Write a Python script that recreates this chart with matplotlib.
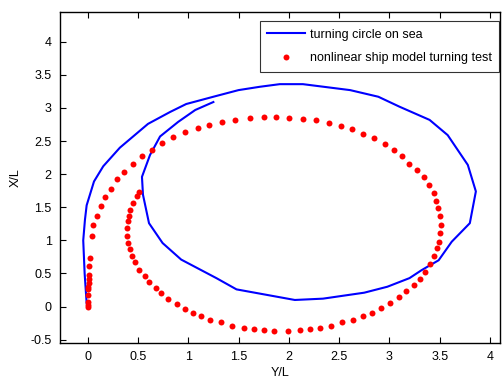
import matplotlib
matplotlib.use('Agg')
import matplotlib.pyplot as plt

plt.rcParams['font.family'] = ['Liberation Sans', 'DejaVu Sans']

# turning circle on sea (blue line), Y/L and X/L
sea_y = [-0.01, -0.03, -0.044, -0.027, -0.01, 0.063, 0.155, 0.32, 0.60, 0.82, 0.98,
         1.25, 1.50, 1.71, 1.91, 2.14, 2.61, 2.89, 3.10, 3.40, 3.58, 3.78, 3.86,
         3.80, 3.62, 3.49, 3.32, 3.20, 2.98, 2.75, 2.34, 2.06, 1.48, 1.28, 0.93,
         0.745, 0.61, 0.55, 0.54, 0.62, 0.72, 0.90, 1.07, 1.25]
sea_x = [0.05, 0.5, 1.0, 1.31, 1.53, 1.89, 2.12, 2.40, 2.76, 2.94, 3.06,
         3.17, 3.27, 3.32, 3.36, 3.36, 3.27, 3.17, 3.02, 2.82, 2.59, 2.14, 1.74,
         1.26, 0.98, 0.70, 0.55, 0.43, 0.30, 0.21, 0.12, 0.10, 0.26, 0.43, 0.71,
         0.96, 1.26, 1.69, 1.96, 2.29, 2.57, 2.79, 2.97, 3.09]

# nonlinear ship model turning test (red dots)
model_y = [0.0, 0.0, 0.0, 0.0, 0.005, 0.005, 0.01, 0.01, 0.01, 0.01, 0.02,
           0.04, 0.056, 0.095, 0.135, 0.175, 0.23, 0.29, 0.36, 0.45, 0.54, 0.64,
           0.735, 0.845, 0.97, 1.10, 1.21, 1.34, 1.47, 1.61, 1.75, 1.87, 2.00,
           2.14, 2.27, 2.40, 2.52, 2.63, 2.74, 2.85, 2.96, 3.05, 3.13, 3.20,
           3.27, 3.34, 3.39, 3.44, 3.46, 3.48, 3.50, 3.51, 3.50, 3.49, 3.47,
           3.44, 3.40, 3.35, 3.30, 3.24, 3.17, 3.10, 3.01, 2.92, 2.83, 2.74,
           2.64, 2.53, 2.42, 2.31, 2.21, 2.11, 1.99, 1.85, 1.75, 1.65, 1.55,
           1.44, 1.33, 1.22, 1.13, 1.05, 0.97, 0.885, 0.80, 0.725, 0.675, 0.61,
           0.57, 0.51, 0.47, 0.44, 0.42, 0.40, 0.39, 0.39, 0.40, 0.41, 0.42,
           0.45, 0.49, 0.51]
model_x = [0.0, 0.03, 0.066, 0.17, 0.27, 0.30, 0.35, 0.41, 0.48, 0.61, 0.74,
           1.07, 1.23, 1.37, 1.52, 1.66, 1.78, 1.92, 2.04, 2.16, 2.27, 2.37,
           2.47, 2.56, 2.63, 2.70, 2.75, 2.79, 2.82, 2.85, 2.87, 2.87, 2.85,
           2.83, 2.82, 2.77, 2.73, 2.68, 2.61, 2.54, 2.45, 2.36, 2.27, 2.16,
           2.07, 1.95, 1.83, 1.71, 1.60, 1.49, 1.37, 1.23, 1.11, 0.98, 0.88,
           0.77, 0.65, 0.52, 0.42, 0.33, 0.24, 0.15, 0.06, -0.015, -0.09, -0.14,
           -0.20, -0.24, -0.30, -0.32, -0.34, -0.35, -0.37, -0.37, -0.35, -0.34, -0.32,
           -0.30, -0.24, -0.20, -0.14, -0.09, -0.04, 0.036, 0.12, 0.21, 0.28, 0.37,
           0.46, 0.56, 0.67, 0.77, 0.87, 0.96, 1.07, 1.18, 1.29, 1.37, 1.46,
           1.57, 1.67, 1.73]

xticks = [0, 0.5, 1, 1.5, 2, 2.5, 3, 3.5, 4]
yticks = [-0.5, 0, 0.5, 1, 1.5, 2, 2.5, 3, 3.5, 4]

fig = plt.figure(figsize=(5.03, 3.82), dpi=100)
ax = fig.add_axes([60 / 503, 1 - 343 / 382, 440 / 503, 331 / 382])

ax.plot(sea_y, sea_x, color='blue', lw=1.5, label='turning circle on sea')
ax.plot(model_y, model_x, 'o', color='red', ms=4.3, mec='none',
        label='nonlinear ship model turning test')

ax.set_xlim(-0.275, 4.1)
ax.set_ylim(-0.55, 4.45)
ax.set_xticks(xticks)
ax.set_xticklabels(['0', '0.5', '1', '1.5', '2', '2.5', '3', '3.5', '4'])
ax.set_yticks(yticks)
ax.set_yticklabels(['-0.5', '0', '0.5', '1', '1.5', '2', '2.5', '3', '3.5', '4'])
ax.tick_params(direction='in', length=4, width=0.8, labelsize=9, top=True,
               pad=6, colors='black')
ax.set_xlabel('Y/L', fontsize=9, labelpad=3)
ax.set_ylabel('X/L', fontsize=9, labelpad=6)
for s in ax.spines.values():
    s.set_linewidth(1.0)

leg = ax.legend(loc='upper right', bbox_to_anchor=(0.998, 0.972), fontsize=9,
                frameon=True, fancybox=False, edgecolor='black', borderaxespad=0,
                handlelength=3.0, borderpad=0.6, labelspacing=0.9, handletextpad=0.4)
leg.get_frame().set_linewidth(0.8)

fig.savefig('out.png', dpi=100)
